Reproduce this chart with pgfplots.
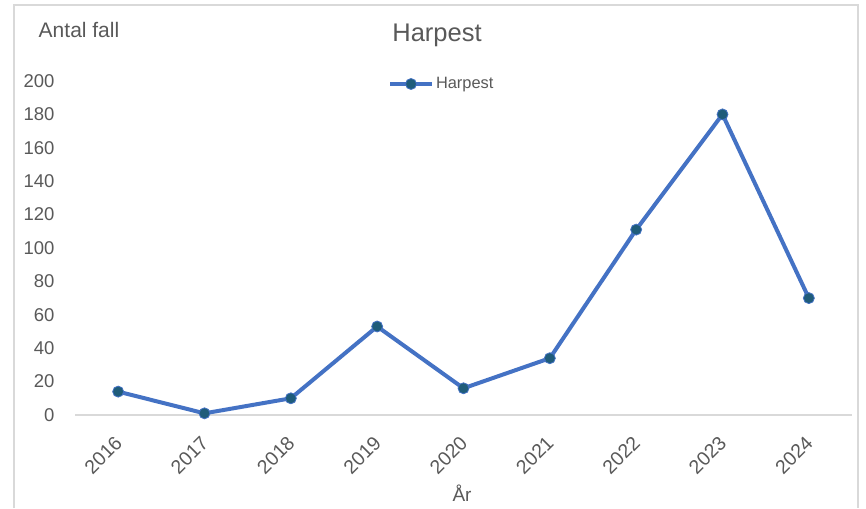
\documentclass[border=0pt]{standalone}
\usepackage{pgfplots}
\pgfplotsset{compat=1.18}
\usepackage{fontspec}
\setmainfont{Liberation Sans}
\definecolor{lineblue}{HTML}{4472C4}
\definecolor{markfill}{HTML}{1F5C7A}
\definecolor{txt}{HTML}{595959}
\definecolor{framec}{HTML}{D9D9D9}
\newcommand\tickfont{\fontsize{18.5}{21}\selectfont}
\newcommand\xtickfont{\fontsize{19.5}{22}\selectfont}
\begin{document}
\begin{tikzpicture}[x=1pt,y=1pt]
\useasboundingbox (0,0) rectangle (866,508);
\draw[framec, line width=1.5pt] (14,0) -- (14,503) -- (858,503) -- (858,0);
\node[txt, font=\fontsize{21}{24}\selectfont] at (79,478) {Antal fall};
\node[txt, font=\fontsize{25.5}{30}\selectfont] at (437,473) {Harpest};
\node[txt, font=\fontsize{19}{22}\selectfont] at (462,15) {År};
\begin{axis}[
  at={(75pt,93pt)}, anchor=south west,
  scale only axis, width=777pt, height=334pt,
  xmin=-0.5, xmax=8.5, ymin=0, ymax=200,
  axis x line*=bottom, axis y line*=left,
  x axis line style={draw=framec, line width=1.2pt},
  y axis line style={draw=none},
  major tick length=0pt,
  xtick={0,...,8},
  xticklabels={\xtickfont 2016,\xtickfont 2017,\xtickfont 2018,\xtickfont 2019,\xtickfont 2020,\xtickfont 2021,\xtickfont 2022,\xtickfont 2023,\xtickfont 2024},
  ytick={0,20,...,200},
  /pgf/number format/assume math mode=true,
  every tick label/.append style={txt, font=\tickfont},
  yticklabel={\tickfont\pgfmathprintnumber{\tick}},
  yticklabel style={anchor=east, xshift=-17pt},
  xticklabel style={xshift=-15pt, yshift=-40pt, rotate=45, anchor=center, inner sep=0pt},
  clip=false,
  legend style={at={(axis description cs:0.472,0.991)}, anchor=center, draw=none, fill=none,
    font=\fontsize{16.4}{19}\selectfont, text=txt, inner sep=0pt,
    /tikz/every even column/.append style={column sep=0pt}},
  legend cell align=left,
  legend image code/.code={\draw[#1, mark repeat=2, mark phase=2] plot coordinates {(0pt,0pt) (21pt,0pt) (42pt,0pt)};},
]
\addplot[lineblue, line width=4pt, mark=*, mark size=5.5pt,
  mark options={fill=markfill, draw=lineblue, line width=0.8pt}]
  coordinates {(0,14) (1,1) (2,10) (3,53) (4,16) (5,34) (6,111) (7,180) (8,70)};
\addlegendentry{Harpest}
\end{axis}
\end{tikzpicture}
\end{document}
